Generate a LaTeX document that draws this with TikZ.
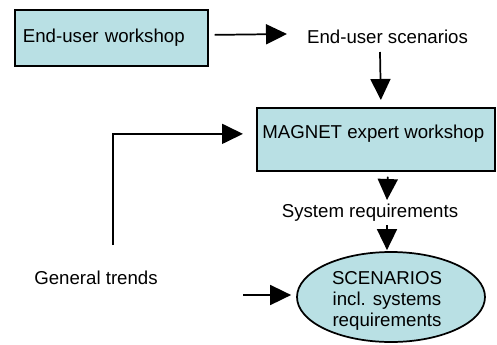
\documentclass[tikz,border=0pt]{standalone}
\usepackage{fontspec}
\setmainfont{Liberation Sans}
\usetikzlibrary{arrows.meta,shapes.geometric}
\definecolor{boxfill}{RGB}{185,224,228}
\tikzset{
  txt/.style={inner sep=0pt, font=\fontsize{14}{15.75}\selectfont},
  workbox/.style={draw=black, line width=1.3pt, fill=boxfill, inner sep=0pt},
  arr/.style={line width=1.3pt, -{Triangle[length=15.75pt,width=15pt]}},
  plain/.style={line width=1.3pt}
}
\begin{document}
\begin{tikzpicture}[x=0.75pt,y=-0.75pt]
\useasboundingbox (0,0) rectangle (497,344);

% boxes and ellipse
\node[workbox, anchor=north west, minimum width=144.75pt, minimum height=42pt,
      text width=132.75pt, inner xsep=6pt, align=left, txt] (enduserws) at (14,9) {End-user workshop};
\node[workbox, anchor=north west, minimum width=178.5pt, minimum height=47.25pt] (magnet) at (256,107) {};
\node[txt, anchor=west] (magnettxt) at (262,134) {MAGNET expert workshop};
\node[draw=black, line width=1.3pt, fill=boxfill, ellipse, minimum width=141pt, minimum height=67.5pt, inner sep=0pt] (scenarios) at (391,297) {};
\node[txt, align=center] (scentxt) at (387,301) {SCENARIOS\\incl. systems\\requirements};

% plain labels
\node[txt] (enduserscen) at (387.5,37) {End-user scenarios};
\node[txt] (sysreq) at (370,213) {System requirements};
\node[txt] (trends) at (96,278) {General trends};
\coordinate (trendin) at (243,295);

% connectors
\draw[arr] ([shift={(6,-3)}]enduserws.east) -- ([shift={(-100.5,-3)}]enduserscen.center);
\draw[arr] ([shift={(-7.5,15)}]enduserscen.center) -- ([shift={(5,-7)}]magnet.north);
\draw[arr] ([shift={(12,5)}]magnet.south) -- ([shift={(17,-13)}]sysreq.center);
\draw[arr] ([shift={(17,12)}]sysreq.center) -- ([shift={(-4,-1)}]scenarios.north);
\draw[arr] ([shift={(17,-33)}]trends.center) |- ([shift={(-13,-5.5)}]magnet.west);
\draw[arr] (trendin) -- ([shift={(-5,-2)}]scenarios.west);
\end{tikzpicture}
\end{document}
